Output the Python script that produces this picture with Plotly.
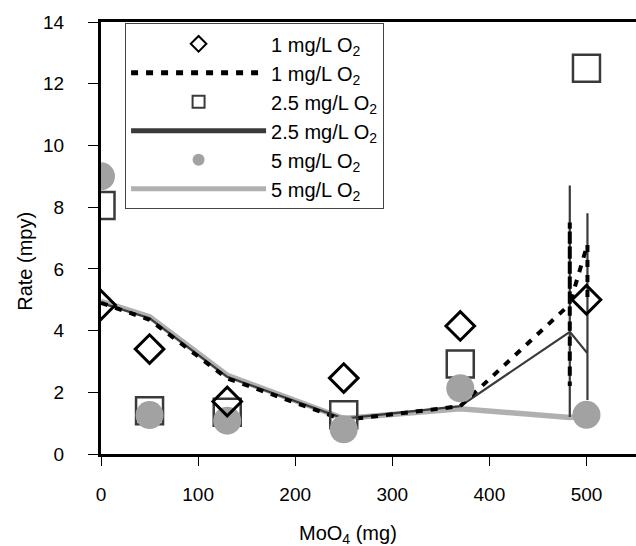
import plotly.graph_objects as go

# ---- data ----
x_pts = [0, 50, 130, 250, 370, 500]
rate_1 = [4.83, 3.4, 1.7, 2.46, 4.15, 5.0]
rate_25 = [8.05, 1.4, 1.35, 1.27, 2.92, 12.5]
rate_5 = [9.0, 1.26, 1.08, 0.8, 2.13, 1.27]

line1_x = [0, 50, 130, 250, 370, 482.8, 482.8, 482.8, 482.8, 501, 501]
line1_y = [4.9, 4.35, 2.45, 1.1, 1.55, 4.85, 7.5, 2.2, 4.85, 6.8, 5.0]

line25_x = [0, 50, 130, 250, 370, 482.8, 482.8, 482.8, 482.8, 501, 501, 501]
line25_y = [4.9, 4.4, 2.5, 1.15, 1.55, 3.96, 8.7, 1.2, 3.96, 3.26, 7.8, 1.75]

line5_x = [0, 50, 130, 250, 370, 482.8, 500]
line5_y = [4.95, 4.45, 2.55, 1.15, 1.47, 1.18, 1.25]

x_ticks = [0, 100, 200, 300, 400, 500]
y_ticks = [0, 2, 4, 6, 8, 10, 12, 14]

FONT = "Liberation Sans, Arial, sans-serif"
name1 = "1 mg/L O<sub>2</sub>"
name25 = "2.5 mg/L O<sub>2</sub>"
name5 = "5 mg/L O<sub>2</sub>"

fig = go.Figure()

fig.add_trace(go.Scatter(x=line5_x, y=line5_y, mode="lines", name=name5,
                         line=dict(color="#b0b0b0", width=5.5), legendrank=6, legendgroup="f"))
fig.add_trace(go.Scatter(x=line25_x, y=line25_y, mode="lines", name=name25,
                         line=dict(color="#3a3a3a", width=2.2), legendrank=4, legendgroup="d"))
fig.add_trace(go.Scatter(x=line1_x, y=line1_y, mode="lines", name=name1,
                         line=dict(color="black", width=4, dash="7px,8px"), legendrank=2, legendgroup="b"))

fig.add_trace(go.Scatter(x=x_pts, y=rate_25, mode="markers", name=name25,
                         marker=dict(symbol="square-open", size=27, color="#3a3a3a",
                                     line=dict(width=2.5, color="#3a3a3a")),
                         legendrank=3, legendgroup="c"))
fig.add_trace(go.Scatter(x=x_pts, y=rate_5, mode="markers", name=name5,
                         marker=dict(symbol="circle", size=28, color="#a2a2a2",
                                     line=dict(width=0)),
                         legendrank=5, legendgroup="e"))
fig.add_trace(go.Scatter(x=x_pts, y=rate_1, mode="markers", name=name1,
                         marker=dict(symbol="diamond-open", size=22, color="black",
                                     line=dict(width=3, color="black")),
                         legendrank=1, legendgroup="a"))

fig.update_layout(
    width=636, height=546,
    margin=dict(l=101, r=0, t=22, b=92, autoexpand=False),
    paper_bgcolor="white", plot_bgcolor="white",
    font=dict(family=FONT, size=19, color="black"),
    showlegend=True,
    legend=dict(x=0.045, y=0.997, xanchor="left", yanchor="top",
                bgcolor="white", bordercolor="#444", borderwidth=1,
                font=dict(size=20, family=FONT), itemwidth=135,
                tracegroupgap=0, itemsizing="constant"),
    xaxis=dict(range=[0, 551], tickvals=x_ticks, showgrid=False, zeroline=False,
               showline=True, linecolor="black", linewidth=3, mirror=True,
               ticks="outside", ticklen=9, tickwidth=1, tickcolor="black",
               ticklabelstandoff=12, tickfont=dict(size=19), automargin=False),
    yaxis=dict(range=[0, 14], tickvals=y_ticks, showgrid=False, zeroline=False,
               showline=True, linecolor="black", linewidth=3,
               ticks="outside", ticklen=10, tickwidth=1, tickcolor="black",
               ticklabelstandoff=20, tickfont=dict(size=19), automargin=False),
    annotations=[
        dict(text="MoO<sub>4</sub> (mg)", xref="paper", yref="paper",
             x=0.462, y=-0.187, xanchor="center", yanchor="middle",
             showarrow=False, font=dict(size=20, family=FONT)),
        dict(text="Rate (mpy)", xref="paper", yref="paper",
             x=-0.142, y=0.445, xanchor="center", yanchor="middle", textangle=-90,
             showarrow=False, font=dict(size=20, family=FONT)),
    ],
)

fig.write_html("out.html", config={"displayModeBar": False},
               post_script="document.body.style.margin='0';")
